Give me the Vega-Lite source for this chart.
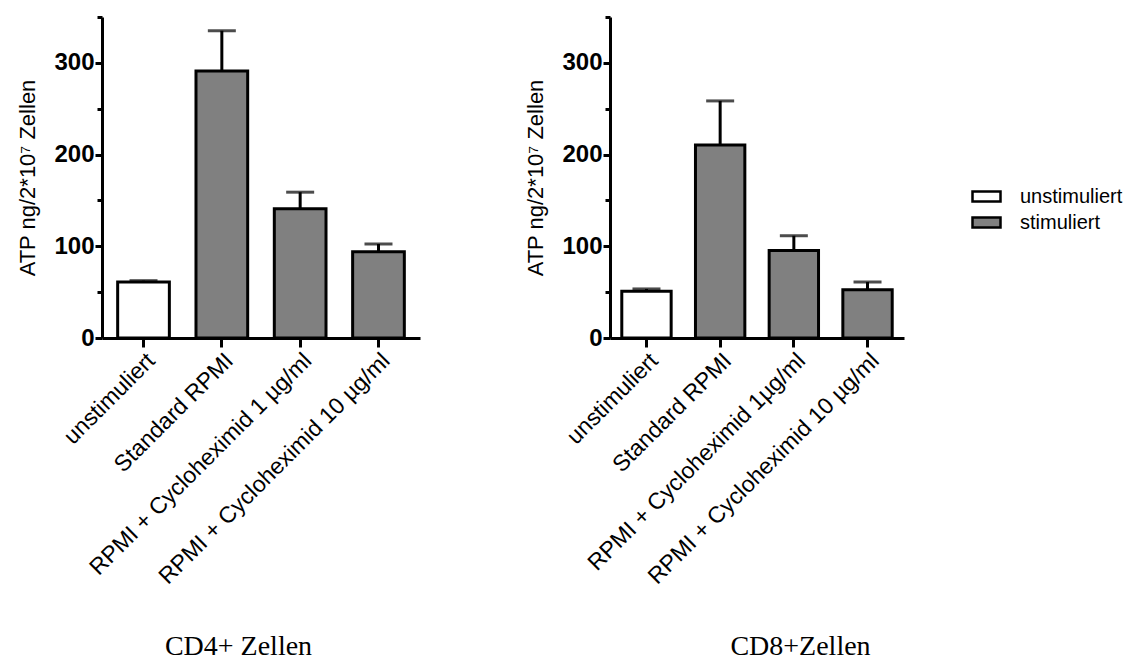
{
  "$schema": "https://vega.github.io/schema/vega-lite/v6.json",
  "padding": {"left": 16, "top": 15, "right": 0, "bottom": 0},
  "background": "white",
  "spacing": 104,
  "config": {
    "view": {"stroke": null},
    "font": "Liberation Sans",
    "axis": {
      "domainColor": "black", "domainWidth": 3, "tickColor": "black", "tickWidth": 3,
      "labelColor": "black", "titleColor": "black", "grid": false
    },
    "axisY": {
      "title": "ATP ng/2*10⁷ Zellen", "values": [0, 50, 100, 150, 200, 250, 300, 350],
      "labelExpr": "datum.value % 100 === 0 ? datum.label : ''",
      "tickSize": {"condition": {"test": "datum.value % 100 === 0", "value": 7}, "value": 5},
      "labelFontSize": 24, "labelFontWeight": "bold", "labelPadding": 1,
      "titleFontSize": 22, "titleFontWeight": "normal", "titlePadding": 14
    },
    "axisX": {
      "titleFont": "Liberation Serif", "titleFontSize": 28, "titleFontWeight": "normal",
      "titleBaseline": "alphabetic", "titleAlign": "center", "titleY": 316,
      "labelAngle": -45, "labelFontSize": 23, "tickSize": 9, "labelPadding": 2, "labelLimit": 600
    }
  },
  "datasets": {
    "cd4": [
      {"category": "unstimuliert", "group": "unstimuliert", "value": 61, "upper": 62.5},
      {"category": "Standard RPMI", "group": "stimuliert", "value": 291, "upper": 335},
      {"category": "RPMI + Cycloheximid 1 µg/ml", "group": "stimuliert", "value": 141, "upper": 159},
      {"category": "RPMI + Cycloheximid 10 µg/ml", "group": "stimuliert", "value": 94, "upper": 102.5}
    ],
    "cd8": [
      {"category": "unstimuliert", "group": "unstimuliert", "value": 51, "upper": 53.5},
      {"category": "Standard RPMI", "group": "stimuliert", "value": 210.5, "upper": 258.5},
      {"category": "RPMI + Cycloheximid 1µg/ml", "group": "stimuliert", "value": 95.5, "upper": 111.5},
      {"category": "RPMI + Cycloheximid 10 µg/ml", "group": "stimuliert", "value": 52.5, "upper": 61}
    ]
  },
  "hconcat": [
    {
      "width": 318, "height": 321,
      "data": {"name": "cd4"},
      "encoding": {
        "x": {"field": "category", "type": "nominal", "sort": null,
          "scale": {"type": "band", "paddingInner": 0.34, "paddingOuter": 0.2},
          "axis": {"title": "CD4+ Zellen", "titleX": 136}}
      },
      "layer": [
        {"mark": {"type": "rule", "strokeWidth": 3, "color": "black"},
          "encoding": {"y": {"field": "value", "type": "quantitative", "scale": {"domain": [0, 350], "nice": false}, "title": "ATP ng/2*10⁷ Zellen"},
            "y2": {"field": "upper"}}},
        {"mark": {"type": "tick", "size": 28, "thickness": 3, "color": "black"},
          "encoding": {"y": {"field": "upper", "type": "quantitative", "scale": {"domain": [0, 350], "nice": false}, "title": "ATP ng/2*10⁷ Zellen"}}},
        {"mark": {"type": "bar", "stroke": "black", "strokeWidth": 3},
          "encoding": {
            "y": {"field": "value", "type": "quantitative", "scale": {"domain": [0, 350], "nice": false}, "title": "ATP ng/2*10⁷ Zellen"},
            "fill": {"field": "group", "type": "nominal",
            "scale": {"domain": ["unstimuliert", "stimuliert"], "range": ["white", "#808080"]},
            "legend": {"orient": "none", "legendX": 869, "legendY": 164, "title": null,
              "symbolType": "M-1,-0.36H1V0.36H-1Z", "symbolSize": 784, "symbolStrokeColor": "black",
              "symbolStrokeWidth": 2.5, "labelFontSize": 20, "labelOffset": 18, "rowPadding": 0, "labelColor": "black"}}}}
      ]
    },
    {
      "width": 294, "height": 321,
      "data": {"name": "cd8"},
      "encoding": {
        "x": {"field": "category", "type": "nominal", "sort": null,
          "scale": {"type": "band", "paddingInner": 0.33, "paddingOuter": 0.16},
          "axis": {"title": "CD8+Zellen", "titleX": 190}}
      },
      "layer": [
        {"mark": {"type": "rule", "strokeWidth": 3, "color": "black"},
          "encoding": {"y": {"field": "value", "type": "quantitative", "scale": {"domain": [0, 350], "nice": false}, "title": "ATP ng/2*10⁷ Zellen"},
            "y2": {"field": "upper"}}},
        {"mark": {"type": "tick", "size": 28, "thickness": 3, "color": "black"},
          "encoding": {"y": {"field": "upper", "type": "quantitative", "scale": {"domain": [0, 350], "nice": false}, "title": "ATP ng/2*10⁷ Zellen"}}},
        {"mark": {"type": "bar", "stroke": "black", "strokeWidth": 3},
          "encoding": {
            "y": {"field": "value", "type": "quantitative", "scale": {"domain": [0, 350], "nice": false}, "title": "ATP ng/2*10⁷ Zellen"},
            "fill": {"field": "group", "type": "nominal",
            "scale": {"domain": ["unstimuliert", "stimuliert"], "range": ["white", "#808080"]},
            "legend": {"orient": "none", "legendX": 869, "legendY": 164, "title": null,
              "symbolType": "M-1,-0.36H1V0.36H-1Z", "symbolSize": 784, "symbolStrokeColor": "black",
              "symbolStrokeWidth": 2.5, "labelFontSize": 20, "labelOffset": 18, "rowPadding": 0, "labelColor": "black"}}}}
      ]
    }
  ]
}
